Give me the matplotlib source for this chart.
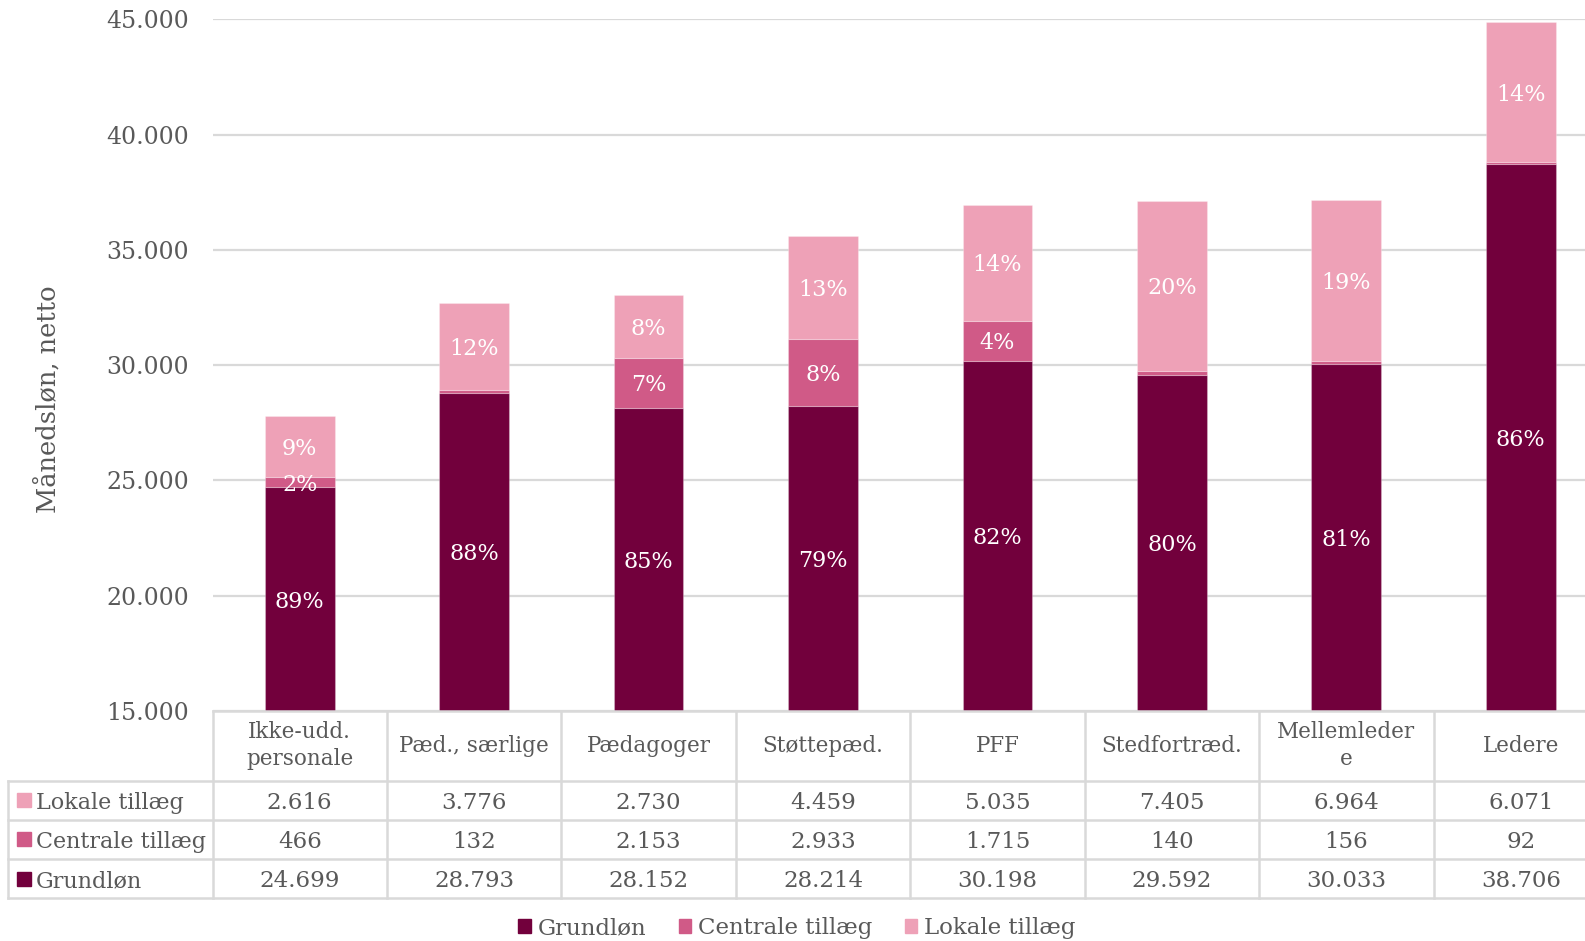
import matplotlib
matplotlib.use("Agg")
import matplotlib.pyplot as plt
from matplotlib.patches import Patch
from matplotlib.ticker import FuncFormatter, MultipleLocator

# ---------------- data ----------------
categories = ["Ikke-udd.\npersonale", "Pæd., særlige", "Pædagoger", "Støttepæd.",
              "PFF", "Stedfortræd.", "Mellemleder\ne", "Ledere"]
grundlon = [24699, 28793, 28152, 28214, 30198, 29592, 30033, 38706]
centrale = [466, 132, 2153, 2933, 1715, 140, 156, 92]
lokale = [2616, 3776, 2730, 4459, 5035, 7405, 6964, 6071]
pct_grund = ["89%", "88%", "85%", "79%", "82%", "80%", "81%", "86%"]
pct_centrale = ["2%", "", "7%", "8%", "4%", "", "", ""]
pct_lokale = ["9%", "12%", "8%", "13%", "14%", "20%", "19%", "14%"]
series_names = ["Grundløn", "Centrale tillæg", "Lokale tillæg"]
y_label = "Månedsløn, netto"

colors = ["#72003c", "#d05a87", "#eea1b7"]
text_col = "#595959"
grid_col = "#d9d9d9"

plt.rcParams['font.family'] = ['DejaVu Serif']

W, H = 1585, 941
fig = plt.figure(figsize=(W / 100, H / 100), dpi=100)

ax_l, ax_r, ax_t, ax_b = 212.5, 1608.0, 19.3, 711.0
ax = fig.add_axes([ax_l / W, 1 - ax_b / H, (ax_r - ax_l) / W, (ax_b - ax_t) / H])
ymin, ymax = 15000, 45000
ax.set_xlim(-0.5, len(categories) - 0.5)
ax.set_ylim(ymin, ymax)
ax.yaxis.set_major_locator(MultipleLocator(5000))
ax.yaxis.set_major_formatter(FuncFormatter(lambda v, p: f"{int(v):,}".replace(",", ".")))
ax.tick_params(axis='y', length=0, pad=17, labelsize=17, labelcolor=text_col)
ax.tick_params(axis='x', length=0, labelbottom=False)
for s in ax.spines.values():
    s.set_visible(False)
ax.grid(axis='y', color=grid_col, linewidth=1.6, zorder=0)
ax.set_axisbelow(True)

x = list(range(len(categories)))
bottoms = [0] * len(categories)
for vals, pcts, col in zip([grundlon, centrale, lokale],
                           [pct_grund, pct_centrale, pct_lokale], colors):
    ax.bar(x, vals, bottom=bottoms, width=0.4, color=col, zorder=3,
           edgecolor=(1, 1, 1, 0.25), linewidth=0.8)
    for i in x:
        lo = max(bottoms[i], ymin)
        hi = bottoms[i] + vals[i]
        if pcts[i]:
            ax.text(i, (lo + hi) / 2, pcts[i], ha='center', va='center_baseline',
                    color='white', fontsize=16, zorder=4)
    bottoms = [b + v for b, v in zip(bottoms, vals)]

fig.text(47 / W, 1 - 399 / H, y_label, rotation=90, ha='center', va='center',
         fontsize=18.5, color=text_col)

# ---------------- data table ----------------
tab_top = 711.0
hdr = 69.5
rowh = 39.3
tab_bot = tab_top + hdr + 3 * rowh
label_left = 8.0
colw = (ax_r - ax_l) / len(categories)
lab_units = (ax_l - label_left) / colw
tax = fig.add_axes([label_left / W, 1 - tab_bot / H, (ax_r - label_left) / W,
                    (tab_bot - tab_top) / H])
x0 = -0.5 - lab_units
x1 = len(categories) - 0.5
tax.set_xlim(x0, x1)
tax.set_ylim(tab_bot - tab_top, 0)
tax.axis('off')
lw = 1.8
tax.plot([-0.5, x1], [0, 0], color=grid_col, lw=lw, clip_on=False)
for k in range(4):
    yy = hdr + k * rowh
    tax.plot([x0, x1], [yy, yy], color=grid_col, lw=lw, clip_on=False)
tax.plot([x0, x0], [hdr, hdr + 3 * rowh], color=grid_col, lw=lw, clip_on=False)
for k in range(len(categories) + 1):
    tax.plot([k - 0.5, k - 0.5], [0, hdr + 3 * rowh], color=grid_col, lw=lw, clip_on=False)

for i, c in enumerate(categories):
    tax.text(i, hdr / 2, c, ha='center', va='center', fontsize=15.5, color=text_col,
             linespacing=1.3)

rows = [(series_names[2], lokale, colors[2]),
        (series_names[1], centrale, colors[1]),
        (series_names[0], grundlon, colors[0])]
for r, (name, vals, col) in enumerate(rows):
    yc = hdr + (r + 0.5) * rowh
    tax.plot([x0 + (24 - label_left) / colw], [yc], marker='s', markersize=10,
             color=col, linestyle='none', clip_on=False)
    tax.text(x0 + (36 - label_left) / colw, yc, name, ha='left', va='center_baseline',
             fontsize=16, color=text_col)
    for i, v in enumerate(vals):
        tax.text(i, yc, f"{v:,}".replace(",", "."), ha='center', va='center_baseline',
                 fontsize=16.5, color=text_col)

# ---------------- legend ----------------
handles = [Patch(color=c, label=n) for c, n in zip(colors, series_names)]
fig.legend(handles=handles, loc='center', bbox_to_anchor=(797 / W, 1 - 928 / H),
           ncol=3, frameon=False, fontsize=16.5, handlelength=0.55, handleheight=0.55,
           handletextpad=0.3, columnspacing=1.4, labelcolor=text_col)

fig.savefig("out.png", dpi=100)
